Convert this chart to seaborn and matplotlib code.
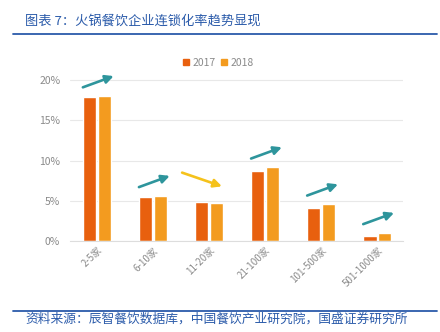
import matplotlib
matplotlib.use("Agg")
import matplotlib.pyplot as plt
import seaborn as sns
import pandas as pd
from matplotlib.lines import Line2D

# Chain-store rate of hotpot restaurant brands by store-count bracket (%)
categories = ["2-5家", "6-10家", "11-20家", "21-100家", "101-500家", "501-1000家"]
rate_2017 = [17.9, 5.5, 4.8, 8.7, 4.15, 0.65]
rate_2018 = [18.0, 5.6, 4.7, 9.15, 4.55, 1.0]
years = ["2017", "2018"]
y_ticks = [0, 5, 10, 15, 20]

title_text = "图表 7：火锅餐饮企业连锁化率趋势显现"
source_text = "资料来源：辰智餐饮数据库，中国餐饮产业研究院，国盛证券研究所"

sns.set_theme(style="white")
plt.rcParams["font.family"] = ["Noto Sans CJK SC", "DejaVu Sans"]

df = pd.DataFrame({
    "category": categories * 2,
    "year": [years[0]] * len(categories) + [years[1]] * len(categories),
    "rate": rate_2017 + rate_2018,
})

c2017, c2018 = "#E8600E", "#F39B1F"
up_color, down_color = "#2E959C", "#F5C21B"
blue = "#2B5BAA"
grey = "#8A8A8A"

fig = plt.figure(figsize=(4.4, 3.32), dpi=100)
ax = fig.add_axes([0.159, 0.274, 0.757, 0.509])

sns.barplot(data=df, x="category", y="rate", hue="year", order=categories,
            palette=[c2017, c2018], width=0.52, gap=0.1, ax=ax,
            legend=False, saturation=1)

ax.set_xlim(-0.48, 5.46)
ax.set_ylim(0, 21)
ax.set_yticks(y_ticks)
ax.set_yticklabels([f"{t}%" for t in y_ticks], color=grey, fontsize=7.5)
ax.set_xticks(range(len(categories)))
ax.set_xticklabels(categories, rotation=45, ha="right", rotation_mode="anchor",
                   color=grey, fontsize=7)
ax.tick_params(axis="y", length=0, pad=7)
ax.tick_params(axis="x", length=0, pad=3)
ax.set_xlabel("")
ax.set_ylabel("")
ax.yaxis.grid(True, color="#E8E8E8", linewidth=0.8)
ax.set_axisbelow(True)
for side in ["top", "right", "left"]:
    ax.spines[side].set_visible(False)
ax.spines["bottom"].set_color("#DDDDDD")
ax.spines["bottom"].set_linewidth(0.8)

# Trend arrows above each bracket
for i, (a, b) in enumerate(zip(rate_2017, rate_2018)):
    top = max(a, b)
    if b >= a:
        start, end = (i - 0.25, top + 1.1), (i + 0.30, top + 2.5)
        col = up_color
    else:
        start, end = (i - 0.48, top + 3.7), (i + 0.23, top + 2.0)
        col = down_color
    ax.annotate("", xy=end, xytext=start, annotation_clip=False,
                arrowprops=dict(arrowstyle="-|>,head_length=0.4,head_width=0.2",
                                color=col, lw=1.9, shrinkA=0, shrinkB=0))

# Legend at top of the plot
handles = [Line2D([], [], marker="s", linestyle="", markersize=5,
                  markerfacecolor=c, markeredgecolor=c) for c in (c2017, c2018)]
fig.legend(handles, years, loc="center", bbox_to_anchor=(0.495, 0.81),
           ncol=2, frameon=False, fontsize=7.5, labelcolor=grey,
           handletextpad=0.2, columnspacing=0.4, handlelength=0.8)

# Header and footer
fig.text(0.057, 0.937, title_text, color=blue, fontsize=9.5, va="center",
         ha="left", style="italic")
fig.add_artist(Line2D([0.03, 0.993], [0.897, 0.897], color=blue, lw=1.3,
                      transform=fig.transFigure))
fig.add_artist(Line2D([0.03, 0.993], [0.063, 0.063], color=blue, lw=1.3,
                      transform=fig.transFigure))
fig.text(0.057, 0.04, source_text, color=blue, fontsize=9.2, va="center",
         ha="left", style="italic")

fig.savefig("out.png", dpi=100, facecolor="white")
